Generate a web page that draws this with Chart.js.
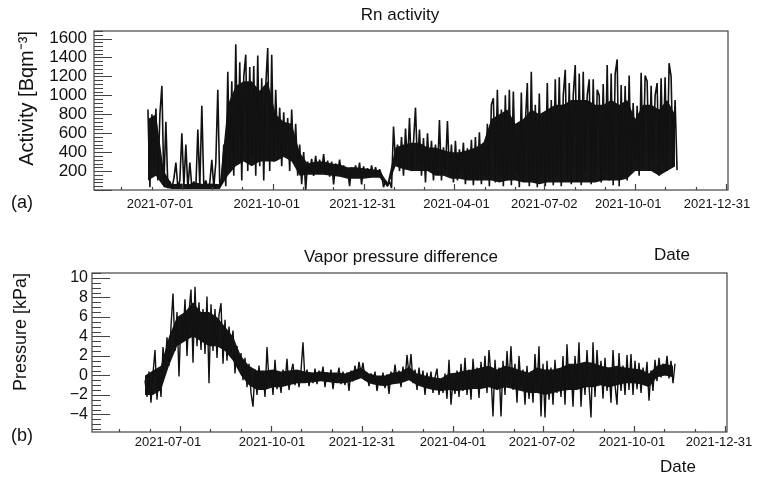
<!DOCTYPE html>
<html>
<head>
<meta charset="utf-8">
<script src="https://cdn.jsdelivr.net/npm/chart.js@4.4.1/dist/chart.umd.min.js"></script>
<style>
	body { margin: 0; background: #fff; }
	#wrap { position: relative; width: 758px; height: 479px; font-family: 'Liberation Sans', Arial, sans-serif; color: #111; overflow: hidden; }
	#wrap canvas { position: absolute; left: 0; }
	.lbl { position: absolute; transform: translate(-50%, -50%); white-space: nowrap; }
</style>
</head>
<body>
<div id="wrap">
	<canvas id="rn-chart" width="758" height="240" style="top:0"></canvas>
	<canvas id="vp-chart" width="758" height="239" style="top:240px"></canvas>
	<div class="lbl" style="left:400px;top:15px;font-size:17px">Rn activity</div>
	<div class="lbl" style="left:401px;top:257px;font-size:17px">Vapor pressure difference</div>
	<div class="lbl" style="left:672px;top:255px;font-size:17px">Date</div>
	<div class="lbl" style="left:678px;top:467px;font-size:17px">Date</div>
	<div class="lbl" style="left:22px;top:202px;font-size:18px">(a)</div>
	<div class="lbl" style="left:22px;top:435px;font-size:18px">(b)</div>
</div>
<script>
(function () {
	'use strict';

	// x values are days counted from the left edge of each frame
	var xTickLabels = [ '2021-07-01', '2021-10-01', '2021-12-31', '2021-04-01', '2021-07-02', '2021-10-01', '2021-12-31' ];
	var majorTickDays = [ 88, 179, 270, 361, 451, 542, 633 ];
	var rnLabelDays = [ 66, 173, 269, 363, 451, 535, 624 ];
	var vpLabelDays = [ 76, 180, 270, 361, 450, 540, 627 ];
	var rnTicks = [ 200, 400, 600, 800, 1000, 1200, 1400, 1600 ];
	var vpTicks = [ -4, -2, 0, 2, 4, 6, 8, 10 ];

	var step = 2;       // readings every 2 days
	var bandStep = 8;   // band limits every 8 days
	var rnStartDay = 54;
	var vpStartDay = 53;

	// Rn activity [Bq/m3]
	var rnActivity = [
		850, 30, 800, 250, 860, 100, 800, 1100, 50, 720,
		20, 90, 20, 120, 290, 30, 100, 600, 40, 480,
		20, 290, 30, 90, 20, 640, 40, 890, 30, 100,
		20, 80, 320, 30, 290, 1060, 30, 120, 480, 40,
		1250, 200, 1150, 150, 1540, 300, 1350, 100, 1200, 1430,
		200, 1300, 350, 1310, 150, 1420, 250, 1180, 100, 1100,
		1500, 200, 1430, 300, 1060, 400, 870, 250, 820, 350,
		760, 200, 850, 300, 700, 150, 480, 60, 400, 0,
		300, 180, 330, 150, 360, 170, 320, 200, 380, 160,
		310, 140, 300, 60, 280, 170, 320, 150, 260, 140,
		220, 40, 240, 150, 260, 130, 290, 60, 250, 140,
		230, 130, 260, 150, 240, 140, 220, 160, 30, 100,
		40, 90, 20, 670, 300, 480, 200, 560, 150, 650,
		250, 760, 200, 500, 870, 250, 640, 150, 550, 80,
		600, 200, 520, 100, 480, 160, 740, 100, 450, 200,
		730, 150, 480, 80, 520, 100, 430, 200, 500, 60,
		440, 120, 530, 50, 560, 100, 610, 60, 500, 150,
		700, 40, 900, 970, 80, 1060, 150, 850, 40, 1000,
		100, 1060, 50, 1040, 200, 600, 30, 1030, 100, 700,
		1130, 40, 1250, 100, 900, 30, 1020, 150, 800, 40,
		1130, 100, 950, 50, 1170, 150, 1190, 40, 1000, 1270,
		120, 1130, 60, 1000, 1320, 100, 1230, 50, 1250, 200,
		1000, 1170, 60, 1170, 150, 1060, 1000, 80, 1120, 200,
		1320, 100, 1230, 50, 1230, 1380, 40, 1110, 150, 1100,
		100, 1210, 200, 920, 300, 890, 150, 1240, 250, 1210,
		1150, 200, 1100, 300, 1000, 1130, 150, 1180, 300, 1190,
		200, 1340, 1200, 250, 950, 210
	];

	// dense part of the Rn trace, lower and upper limit
	var rnBandLow = [
		100, 150, 30, 10, 10, 10, 10, 10, 10, 10,
		150, 250, 300, 250, 300, 300, 300, 350, 300, 150,
		160, 160, 160, 150, 140, 120, 120, 120, 130, 130,
		30, 250, 220, 200, 200, 200, 150, 150, 120, 120,
		100, 100, 100, 100, 80, 100, 100, 80, 80, 60,
		80, 80, 80, 80, 80, 80, 80, 100, 100, 100,
		120, 200, 200, 200, 150, 200, 250
	];
	var rnBandHigh = [
		750, 800, 200, 60, 70, 60, 80, 60, 70, 60,
		900, 1100, 1150, 1150, 1050, 1150, 800, 720, 700, 400,
		280, 300, 300, 280, 270, 240, 240, 230, 220, 210,
		80, 450, 480, 500, 500, 450, 450, 420, 400, 400,
		420, 450, 500, 750, 800, 850, 700, 750, 850, 800,
		850, 900, 900, 950, 950, 950, 900, 900, 950, 900,
		950, 750, 900, 900, 850, 950, 800
	];

	// vapor pressure difference [kPa]
	var vaporPressure = [
		-0.5, -2.2, 0.4, -2.8, 0.2, 2.6, -2.5, 0.5, -2.2, 2.9,
		0.6, 3.9, 1.0, 5.0, 8.4, 2.5, 6.5, -0.1, 6.0, 3.5,
		7.8, 2.0, 6.5, 8.8, 1.3, 9.1, 3.0, 7.5, 2.6, 6.8,
		2.2, 8.1, -0.8, 7.3, 2.5, 6.8, 1.8, 6.2, 7.4, 1.2,
		5.7, 1.5, 5.0, 2.3, 4.6, 0.2, 3.0, 0.6, 2.3, -0.5,
		1.8, -1.2, 1.2, -1.8, -3.2, 0.6, -2.0, 1.0, -1.5, 0.3,
		-2.2, 2.9, -0.6, 0.5, -2.0, 1.6, -1.4, 0.2, -1.8, 0.6,
		-0.8, 1.7, -1.5, 0.3, 1.2, -1.0, 0.4, -1.2, 0.5, 3.4,
		-0.6, 0.6, -1.1, 0.2, -0.8, 0.7, -0.9, 0.5, -0.4, 0.9,
		-1.2, 0.3, -0.5, 0.6, -1.4, 0.2, -0.3, 0.8, -0.9, 0.4,
		-1.0, 0.3, -1.6, 0.5, -0.6, 1.0, -0.3, 1.4, 0.2, 1.3,
		-0.5, 0.3, -1.1, 0.2, -0.9, 0.4, -1.6, -0.2, -1.0, 0.3,
		-1.3, 0.1, -1.9, 0.4, -0.8, 1.1, -0.5, 0.5, -1.2, 0.9,
		-0.6, 2.1, 0.0, 2.2, -0.8, 0.6, -1.5, 0.8, -1.0, 0.5,
		-2.0, 0.3, -1.2, 0.4, -1.8, -0.2, 0.7, -2.0, -0.4, -1.8,
		0.2, -2.4, 1.6, -3.0, -0.5, -1.9, 0.5, -2.2, 1.2, -1.6,
		1.8, -2.0, 0.6, -2.5, 1.7, -1.0, 0.8, -2.3, 1.4, -1.2,
		2.0, -1.8, 2.6, 0.0, -4.2, 1.6, -1.5, 0.8, -4.2, 1.5,
		-2.0, 2.5, -0.8, 3.0, -1.5, 1.2, -2.8, 2.0, -1.0, 0.6,
		-3.0, 1.0, -2.4, 0.4, -2.8, 2.2, -1.5, 3.0, -4.2, 1.2,
		-4.3, 1.5, -2.5, 0.8, -3.0, 1.6, -1.8, 0.6, -2.2, 2.0,
		-3.0, 3.2, -1.5, 0.9, -3.2, 2.0, -1.2, 3.4, -3.2, 1.0,
		-2.0, 2.6, -1.0, -4.3, 3.4, -2.2, 2.6, -0.8, 1.5, -2.4,
		1.8, -1.6, 0.8, -2.8, 2.6, -1.0, -3.0, 2.3, -1.6, 1.0,
		-2.0, 2.1, -1.5, 2.2, -2.0, 1.5, -1.4, 1.3, -1.8, 0.8,
		-1.0, 1.4, -2.6, 0.5, -1.6, 1.6, -0.6, 1.8, -0.2, 1.2,
		0.0, 2.0, -0.3, 1.5, -0.8, 1.2
	];

	// dense part of the pressure trace, lower and upper limit
	var vpBandLow = [
		-2.0, -2.0, -1.5, 1.0, 3.0, 3.5, 4.0, 3.5, 3.0, 3.0,
		2.5, 1.5, 0.0, -1.0, -1.5, -1.5, -1.2, -1.2, -1.0, -0.8,
		-0.8, -0.7, -0.6, -0.7, -0.8, -0.8, -0.6, -0.3, -0.8, -1.0,
		-1.1, -0.9, -0.8, -0.5, -1.0, -1.3, -1.5, -1.6, -1.5, -1.6,
		-1.5, -1.4, -1.4, -1.2, -1.5, -1.2, -1.4, -1.6, -1.8, -1.8,
		-2.0, -1.8, -1.6, -1.5, -1.5, -1.2, -1.2, -1.0, -1.2, -1.0,
		-0.8, -0.8, -0.9, -1.2, -0.2, 0.0, -0.2
	];
	var vpBandHigh = [
		0.0, 0.5, 1.0, 4.0, 6.0, 6.5, 7.5, 6.5, 6.5, 6.0,
		5.0, 4.0, 2.0, 1.0, 0.5, 0.5, 0.6, 0.4, 0.5, 0.6,
		0.4, 0.3, 0.4, 0.3, 0.3, 0.2, 0.5, 0.8, 0.2, 0.0,
		0.0, 0.3, 0.4, 0.9, 0.2, 0.0, -0.2, -0.3, 0.2, 0.3,
		0.5, 0.6, 0.8, 1.0, 0.6, 1.0, 0.8, 0.5, 0.3, 0.8,
		0.6, 0.6, 0.8, 1.2, 1.2, 1.4, 1.3, 1.0, 0.8, 1.0,
		0.8, 0.7, 0.6, 0.2, 1.0, 1.2, 1.0
	];

	var FONT = 'Liberation Sans';

	function toPoints( values, start, gap ) {
		return values.map( function ( v, i ) {
			return { x: start + i * gap, y: v };
		} );
	}

	function fmt( v ) {
		return v < 0 ? '\u2212' + ( -v ) : String( v );
	}

	// ROOT style frame with ticks pointing inwards
	var rootFrame = {
		id: 'rootFrame',
		afterDatasetsDraw: function ( chart, args, opts ) {
			var ctx = chart.ctx;
			var a = chart.chartArea;
			var xs = chart.scales.x;
			var ys = chart.scales.y;
			ctx.save();
			ctx.strokeStyle = '#444';
			ctx.lineWidth = 1.2;
			ctx.strokeRect( a.left, a.top, a.right - a.left, a.bottom - a.top );
			ctx.beginPath();
			var k0 = Math.ceil( ys.min / opts.yMinor - 1e-9 );
			var k1 = Math.floor( ys.max / opts.yMinor + 1e-9 );
			for ( var k = k0; k <= k1; k++ ) {
				var v = k * opts.yMinor;
				var r = v / opts.yMajor;
				var len = Math.abs( r - Math.round( r ) ) < 1e-6 ? 18 : 9;
				var py = Math.round( ys.getPixelForValue( v ) ) + 0.5;
				ctx.moveTo( a.left, py );
				ctx.lineTo( a.left + len, py );
			}
			var third = ( majorTickDays[ 1 ] - majorTickDays[ 0 ] ) / 3;
			var marks = [
				{ d: majorTickDays[ 0 ] - third, len: 3 },
				{ d: majorTickDays[ 0 ] - 2 * third, len: 3 }
			];
			majorTickDays.forEach( function ( d ) {
				marks.push( { d: d, len: 6 } );
				marks.push( { d: d + third, len: 3 } );
				marks.push( { d: d + 2 * third, len: 3 } );
			} );
			marks.forEach( function ( m ) {
				if ( m.d < xs.min || m.d > xs.max ) { return; }
				var px = Math.round( xs.getPixelForValue( m.d ) ) + 0.5;
				ctx.moveTo( px, a.bottom );
				ctx.lineTo( px, a.bottom - m.len );
			} );
			ctx.stroke();
			ctx.restore();
		}
	};

	function makeChart( el, cfg ) {
		return new Chart( el, {
			type: 'line',
			data: {
				datasets: [ {
					data: toPoints( cfg.values, cfg.start, step ),
					borderColor: '#111',
					borderWidth: cfg.lineWidth,
					borderJoinStyle: 'bevel',
					pointRadius: 0,
					tension: 0,
				}, {
					data: toPoints( cfg.bandHigh, cfg.start, bandStep ),
					borderWidth: 0,
					backgroundColor: '#151515',
					pointRadius: 0,
					tension: 0,
					fill: '+1',
				}, {
					data: toPoints( cfg.bandLow, cfg.start, bandStep ),
					borderWidth: 0,
					pointRadius: 0,
					tension: 0,
					fill: false,
				} ],
			},
			options: {
				responsive: false,
				animation: false,
				devicePixelRatio: 1,
				layout: { padding: { top: cfg.top, right: cfg.right, left: 0, bottom: 0 } },
				plugins: {
					legend: { display: false },
					tooltip: { enabled: false },
					rootFrame: { yMinor: cfg.yMinor, yMajor: cfg.yMajor },
				},
				scales: {
					x: {
						type: 'linear',
						min: 0,
						max: 635,
						grid: { display: false, drawTicks: false },
						border: { display: false },
						afterBuildTicks: function ( s ) {
							s.ticks = cfg.labelDays.map( function ( d ) { return { value: d }; } );
						},
						afterFit: function ( s ) { s.height = cfg.xHeight; },
						ticks: {
							autoSkip: false,
							maxRotation: 0,
							padding: cfg.xPad,
							color: '#111',
							font: { family: FONT, size: 13 },
							callback: function ( v, i ) { return xTickLabels[ i ]; },
						},
					},
					y: {
						min: cfg.yMin,
						max: cfg.yMax,
						grid: { display: false, drawTicks: false },
						border: { display: false },
						afterBuildTicks: function ( s ) {
							s.ticks = cfg.yTicks.map( function ( v ) { return { value: v }; } );
						},
						afterFit: function ( s ) { s.width = cfg.yWidth; },
						ticks: {
							autoSkip: false,
							padding: cfg.yPad,
							color: '#111',
							font: { family: FONT, size: cfg.yFont },
							callback: function ( v ) { return fmt( v ); },
						},
						title: {
							display: true,
							text: cfg.yTitle,
							align: 'end',
							color: '#111',
							padding: { top: cfg.titlePad, bottom: 0 },
							font: { family: FONT, size: cfg.titleFont },
						},
					},
				},
			},
			plugins: [ rootFrame ],
		} );
	}

	makeChart( document.getElementById( 'rn-chart' ), {
		values: rnActivity,
		bandLow: rnBandLow,
		bandHigh: rnBandHigh,
		start: rnStartDay,
		lineWidth: 1.6,
		top: 31,
		right: 30,
		xHeight: 50,
		xPad: 7,
		labelDays: rnLabelDays,
		yMin: 0,
		yMax: 1680,
		yTicks: rnTicks,
		yMinor: 40,
		yMajor: 200,
		yWidth: 94,
		yPad: 7,
		yFont: 17,
		yTitle: 'Activity [Bqm\u207B\u00B3]',
		titleFont: 20,
		titlePad: 15,
	} );

	makeChart( document.getElementById( 'vp-chart' ), {
		values: vaporPressure,
		bandLow: vpBandLow,
		bandHigh: vpBandHigh,
		start: vpStartDay,
		lineWidth: 1.4,
		top: 33,
		right: 31,
		xHeight: 47,
		xPad: 3,
		labelDays: vpLabelDays,
		yMin: -5.8,
		yMax: 10.5,
		yTicks: vpTicks,
		yMinor: 0.5,
		yMajor: 2,
		yWidth: 92,
		yPad: 4,
		yFont: 16,
		yTitle: 'Pressure [kPa]',
		titleFont: 18,
		titlePad: 10,
	} );
}() );
</script>
</body>
</html>
